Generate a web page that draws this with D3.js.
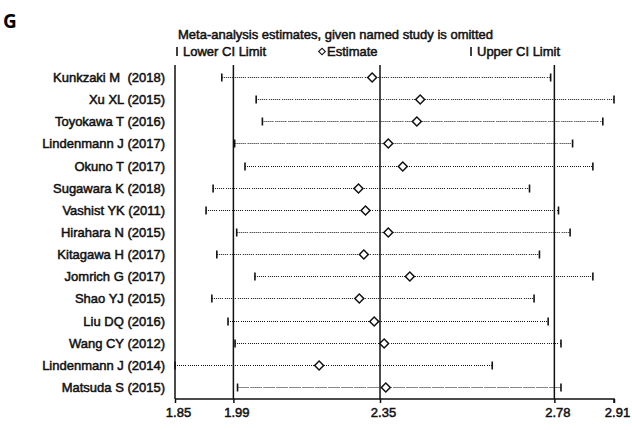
<!DOCTYPE html>
<html>
<head>
<meta charset="utf-8">
<script src="https://cdn.jsdelivr.net/npm/d3@7"></script>
<style>
    body { margin: 0; background: #fff; }
    svg text { font-family: "Liberation Sans", Arial, sans-serif; white-space: pre; }
</style>
</head>
<body>
<div id="draw"></div>
<script>
(function () {
    "use strict";

    // studies, top to bottom
    var studies = [
        "Kunkzaki M  (2018)", "Xu XL (2015)", "Toyokawa T (2016)", "Lindenmann J (2017)",
        "Okuno T (2017)", "Sugawara K (2018)", "Vashist YK (2011)", "Hirahara N (2015)",
        "Kitagawa H (2017)", "Jomrich G (2017)", "Shao YJ (2015)", "Liu DQ (2016)",
        "Wang CY (2012)", "Lindenmann J (2014)", "Matsuda S (2015)"
    ];
    // estimate when named study is omitted
    var estimates = [2.326, 2.442, 2.434, 2.365, 2.400, 2.293, 2.310, 2.365,
        2.306, 2.417, 2.295, 2.331, 2.355, 2.198, 2.359];
    var lowerCI = [1.963, 2.046, 2.061, 1.994, 2.019, 1.942, 1.925, 1.999,
        1.951, 2.043, 1.939, 1.978, 1.995, 1.850, 2.001];
    var upperCI = [2.757, 2.910, 2.883, 2.810, 2.859, 2.706, 2.776, 2.804,
        2.730, 2.859, 2.717, 2.751, 2.782, 2.616, 2.782];

    // overall lower CI, estimate, upper CI (vertical lines)
    var overall = [1.991, 2.345, 2.766];
    var tickValues = [1.85, 1.991, 2.345, 2.766, 2.91];
    var tickLabels = ["1.85", "1.99", "2.35", "2.78", "2.91"];

    var width = 632,
        height = 430,
        top = 65,
        axisY = 399,
        ink = '#111';

    var svg = d3.select('#draw').append('svg')
        .attr('width', width).attr('height', height);

    var x = d3.scaleLinear().domain([1.85, 2.91]).range([175, 614]);
    var y = d3.scalePoint().domain(studies).range([77, 387]);

    // snap row to a half pixel so the 1px dotted lines stay crisp
    function rowY(d) {
        return Math.round(y(d)) + 0.5;
    }

    // all chart text gets the same slightly heavy look
    function label(sel) {
        return sel.style('font-size', '13px')
            .attr('fill', ink)
            .attr('stroke', ink)
            .attr('stroke-width', 0.5);
    }

    // panel letter
    svg.append('text')
        .attr('x', 3).attr('y', 28)
        .style('font-family', '"Open Sans", sans-serif')
        .style('font-weight', 700)
        .style('font-size', '19px')
        .text('G');

    // title + legend
    label(svg.append('text'))
        .attr('x', 178).attr('y', 39)
        .text('Meta-analysis estimates, given named study is omitted');

    var legY = 56;
    svg.append('line')
        .attr('x1', 177).attr('x2', 177)
        .attr('y1', legY - 9).attr('y2', legY)
        .attr('stroke', ink).attr('stroke-width', 1.6);
    label(svg.append('text'))
        .attr('x', 183).attr('y', legY)
        .text('Lower CI Limit');
    svg.append('path')
        .attr('d', d3.symbol(d3.symbolSquare, 22)())
        .attr('transform', 'translate(322,' + (legY - 4.5) + ') rotate(45)')
        .attr('fill', '#fff').attr('stroke', ink).attr('stroke-width', 1.1);
    label(svg.append('text'))
        .attr('x', 327).attr('y', legY)
        .text('Estimate');
    svg.append('line')
        .attr('x1', 471).attr('x2', 471)
        .attr('y1', legY - 9).attr('y2', legY)
        .attr('stroke', ink).attr('stroke-width', 1.6);
    label(svg.append('text'))
        .attr('x', 477).attr('y', legY)
        .text('Upper CI Limit');

    // x axis
    var xAxis = d3.axisBottom(x)
        .tickValues(tickValues)
        .tickSize(4)
        .tickFormat(function (d, i) { return tickLabels[i]; });
    var gx = svg.append('g')
        .attr('transform', 'translate(0,' + axisY + ')')
        .call(xAxis);
    gx.select('.domain')
        .attr('d', 'M' + x.range()[0] + ',0H' + x.range()[1] + 'V4')
        .attr('stroke', ink).attr('stroke-width', 1.5);
    gx.selectAll('.tick line').attr('stroke', ink).attr('stroke-width', 1.5);
    label(gx.selectAll('.tick text'))
        .attr('dx', 3).attr('y', 9)
        .style('font-family', '"Liberation Sans", Arial, sans-serif');

    // y axis line (no ticks)
    svg.append('line')
        .attr('x1', x(1.85)).attr('x2', x(1.85))
        .attr('y1', top).attr('y2', axisY)
        .attr('stroke', ink).attr('stroke-width', 1.5);

    // study labels
    label(svg.append('g').selectAll('text')
        .data(studies)
        .join('text'))
        .attr('x', 165)
        .attr('y', rowY)
        .attr('dy', '0.36em')
        .attr('text-anchor', 'end')
        .text(function (d) { return d; });

    // overall reference lines
    svg.append('g').selectAll('line')
        .data(overall)
        .join('line')
        .attr('x1', function (d) { return x(d); })
        .attr('x2', function (d) { return x(d); })
        .attr('y1', top).attr('y2', axisY)
        .attr('stroke', ink).attr('stroke-width', 1.5);

    // one group per study row
    var rows = svg.append('g').selectAll('g')
        .data(studies)
        .join('g')
        .attr('transform', function (d) { return 'translate(0,' + rowY(d) + ')'; });

    // CI dotted lines
    rows.append('line')
        .attr('x1', function (d, i) { return x(lowerCI[i]); })
        .attr('x2', function (d, i) { return x(upperCI[i]); })
        .attr('stroke', '#111').attr('stroke-width', 1)
        .attr('stroke-dasharray', '1,1,1,1,1,1,1,1,1,1,1,2');

    // CI end ticks (lower bound on the axis is hidden by the axis line)
    rows.append('line')
        .attr('x1', function (d, i) { return x(lowerCI[i]); })
        .attr('x2', function (d, i) { return x(lowerCI[i]); })
        .attr('y1', -4).attr('y2', 4)
        .attr('stroke', ink).attr('stroke-width', 1.6);
    rows.append('line')
        .attr('x1', function (d, i) { return x(upperCI[i]); })
        .attr('x2', function (d, i) { return x(upperCI[i]); })
        .attr('y1', -4).attr('y2', 4)
        .attr('stroke', ink).attr('stroke-width', 1.6);

    // estimate diamonds
    rows.append('path')
        .attr('d', d3.symbol(d3.symbolSquare, 40)())
        .attr('transform', function (d, i) { return 'translate(' + x(estimates[i]) + ',0) rotate(45)'; })
        .attr('fill', '#fff')
        .attr('stroke', ink)
        .attr('stroke-width', 1.5);
}());
</script>
</body>
</html>
